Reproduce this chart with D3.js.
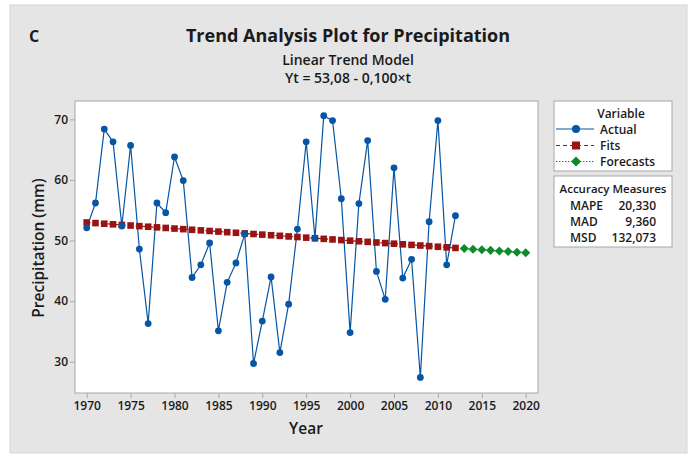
<!DOCTYPE html>
<html>
<head>
<meta charset="utf-8">
<script src="https://cdn.jsdelivr.net/npm/d3@7"></script>
<style>
  body { margin: 0; background: #fff; }
  svg { display: block; font-family: "Open Sans", "Noto Sans", sans-serif; }
</style>
</head>
<body>
<script>
// Observed precipitation (mm), 1970-2012
const years = d3.range(1970, 2013);
const actual = [
  52.1, 56.2, 68.4, 66.3, 52.4, 65.7, 48.6, 36.3, 56.2, 54.6,
  63.8, 59.9, 43.9, 46.0, 49.6, 35.1, 43.1, 46.3, 51.1, 29.7,
  36.7, 44.0, 31.5, 39.5, 51.9, 66.3, 50.4, 70.6, 69.8, 56.9,
  34.8, 56.1, 66.5, 44.9, 40.3, 62.0, 43.8, 46.9, 27.4, 53.1,
  69.8, 46.0, 54.1
];
// Fitted trend values, 1970-2012
const fits = [
  52.98, 52.88, 52.78, 52.68, 52.58, 52.48, 52.38, 52.28, 52.18, 52.08,
  51.98, 51.88, 51.78, 51.68, 51.58, 51.48, 51.38, 51.28, 51.18, 51.08,
  50.98, 50.88, 50.78, 50.68, 50.58, 50.48, 50.38, 50.28, 50.18, 50.08,
  49.98, 49.88, 49.78, 49.68, 49.58, 49.48, 49.38, 49.28, 49.18, 49.08,
  48.98, 48.88, 48.78
];
// Forecasts, 2013-2020
const forecastYears = d3.range(2013, 2021);
const forecasts = [48.68, 48.58, 48.48, 48.38, 48.28, 48.18, 48.08, 47.98];

const xTicks = [1970, 1975, 1980, 1985, 1990, 1995, 2000, 2005, 2010, 2015, 2020];
const yTicks = [30, 40, 50, 60, 70];

const accLabels = ["MAPE", "MAD", "MSD"];
const accValues = ["20,330", "9,360", "132,073"];

const W = 689, H = 454;
const plot = { left: 75, right: 538, top: 101, bottom: 393 };

const colActual = "#0755a5";
const colFits = "#9a1313";
const colFc = "#0e8a2a";

const svg = d3.select("body").append("svg")
  .attr("width", W)
  .attr("height", H);

// grey panel
svg.append("rect")
  .attr("x", 10).attr("y", 5)
  .attr("width", 677).attr("height", 448)
  .attr("fill", "#e5e5e5")
  .attr("stroke", "#d6d6d6");

// plot area
svg.append("rect")
  .attr("x", plot.left).attr("y", plot.top)
  .attr("width", plot.right - plot.left)
  .attr("height", plot.bottom - plot.top)
  .attr("fill", "#fff")
  .attr("stroke", "#a8a8a8");

const x = d3.scaleLinear()
  .domain([1970, 2020])
  .range([86.7, 525.7]);

const y = d3.scaleLinear()
  .domain([30, 70])
  .range([361.7, 119.4]);

// axes
const xAxis = svg.append("g")
  .attr("transform", `translate(0, ${plot.bottom})`)
  .call(d3.axisBottom(x).tickValues(xTicks).tickFormat(d3.format("d")).tickSize(5).tickSizeOuter(0));
const yAxis = svg.append("g")
  .attr("transform", `translate(${plot.left}, 0)`)
  .call(d3.axisLeft(y).tickValues(yTicks).tickSize(5).tickSizeOuter(0));

[xAxis, yAxis].forEach(g => {
  g.select(".domain").remove();
  g.selectAll(".tick line").attr("stroke", "#a8a8a8");
  g.selectAll(".tick text")
    .attr("fill", "#1a1a1a")
    .style("font-size", "12px")
    .style("font-weight", "600")
    .style("font-family", "Open Sans, sans-serif");
});
xAxis.selectAll(".tick text").attr("dy", "0.71em").attr("y", 8);
yAxis.selectAll(".tick text").attr("x", -7);

// axis titles
svg.append("text")
  .attr("x", 306).attr("y", 434)
  .attr("text-anchor", "middle")
  .style("font-size", "15.5px").style("font-weight", "600")
  .attr("fill", "#1a1a1a")
  .text("Year");

svg.append("text")
  .attr("transform", `translate(44, 248) rotate(-90)`)
  .attr("text-anchor", "middle")
  .style("font-size", "15.5px").style("font-weight", "600")
  .attr("fill", "#1a1a1a")
  .text("Precipitation (mm)");

// titles
svg.append("text")
  .attr("x", 29).attr("y", 42)
  .style("font-size", "16px").style("font-weight", "700")
  .attr("fill", "#1a1a1a")
  .text("C");

svg.append("text")
  .attr("x", 348).attr("y", 42)
  .attr("text-anchor", "middle")
  .style("font-size", "18px").style("font-weight", "700")
  .attr("fill", "#1a1a1a")
  .text("Trend Analysis Plot for Precipitation");

svg.append("text")
  .attr("x", 348).attr("y", 65)
  .attr("text-anchor", "middle")
  .style("font-size", "14px").style("font-weight", "600")
  .attr("fill", "#1a1a1a")
  .text("Linear Trend Model");

svg.append("text")
  .attr("x", 348).attr("y", 83)
  .attr("text-anchor", "middle")
  .style("font-size", "14px").style("font-weight", "600")
  .attr("fill", "#1a1a1a")
  .text("Yt = 53,08 - 0,100×t");

// series
const actualData = years.map((yr, i) => ({ yr, v: actual[i] }));
const fitData = years.map((yr, i) => ({ yr, v: fits[i] }));
const fcData = forecastYears.map((yr, i) => ({ yr, v: forecasts[i] }));

const line = d3.line().x(d => x(d.yr)).y(d => y(d.v));

svg.append("path")
  .datum(fitData)
  .attr("d", line)
  .attr("fill", "none")
  .attr("stroke", colFits)
  .attr("stroke-width", 1.2)
  .attr("stroke-dasharray", "4,3");

svg.append("path")
  .datum(fcData)
  .attr("d", line)
  .attr("fill", "none")
  .attr("stroke", colFc)
  .attr("stroke-width", 1.2)
  .attr("stroke-dasharray", "1.5,1.5");

svg.append("path")
  .datum(actualData)
  .attr("d", line)
  .attr("fill", "none")
  .attr("stroke", colActual)
  .attr("stroke-width", 1.2);

svg.selectAll("rect.fit")
  .data(fitData)
  .enter().append("rect")
  .attr("class", "fit")
  .attr("x", d => x(d.yr) - 3.3)
  .attr("y", d => y(d.v) - 3.3)
  .attr("width", 6.6).attr("height", 6.6)
  .attr("fill", colFits);

const diamond = d3.symbol().type(d3.symbolDiamond2).size(52);
svg.selectAll("path.fc")
  .data(fcData)
  .enter().append("path")
  .attr("class", "fc")
  .attr("transform", d => `translate(${x(d.yr)}, ${y(d.v)})`)
  .attr("d", diamond)
  .attr("fill", colFc);

svg.selectAll("circle.act")
  .data(actualData)
  .enter().append("circle")
  .attr("class", "act")
  .attr("cx", d => x(d.yr))
  .attr("cy", d => y(d.v))
  .attr("r", 3.4)
  .attr("fill", colActual);

// legend: Variable
const lg = svg.append("g");
lg.append("rect")
  .attr("x", 554).attr("y", 101)
  .attr("width", 118).attr("height", 70)
  .attr("fill", "#fff").attr("stroke", "#a8a8a8");
lg.append("text")
  .attr("x", 621).attr("y", 118)
  .attr("text-anchor", "middle")
  .style("font-size", "12px").style("font-weight", "600")
  .attr("fill", "#1a1a1a")
  .text("Variable");

const legendRows = [
  { name: "Actual", color: colActual, dash: null, mark: "circle", cy: 129 },
  { name: "Fits", color: colFits, dash: "4,3", mark: "square", cy: 145.5 },
  { name: "Forecasts", color: colFc, dash: "1.5,1.5", mark: "diamond", cy: 161.5 }
];
legendRows.forEach(r => {
  lg.append("line")
    .attr("x1", 556).attr("x2", 594)
    .attr("y1", r.cy).attr("y2", r.cy)
    .attr("stroke", r.color).attr("stroke-width", 1.2)
    .attr("stroke-dasharray", r.dash);
  if (r.mark === "circle") {
    lg.append("circle").attr("cx", 576).attr("cy", r.cy).attr("r", 4).attr("fill", r.color);
  } else if (r.mark === "square") {
    lg.append("rect").attr("x", 572).attr("y", r.cy - 4).attr("width", 8).attr("height", 8).attr("fill", r.color);
  } else {
    lg.append("path").attr("transform", `translate(576, ${r.cy})`)
      .attr("d", d3.symbol().type(d3.symbolDiamond2).size(64)).attr("fill", r.color);
  }
  lg.append("text")
    .attr("x", 600).attr("y", r.cy + 4.5)
    .style("font-size", "12px").style("font-weight", "600")
    .attr("fill", "#1a1a1a")
    .text(r.name);
});

// legend: Accuracy measures
const acc = svg.append("g");
acc.append("rect")
  .attr("x", 554).attr("y", 176)
  .attr("width", 118).attr("height", 71)
  .attr("fill", "#fff").attr("stroke", "#a8a8a8");
acc.append("text")
  .attr("x", 613).attr("y", 193)
  .attr("text-anchor", "middle")
  .style("font-size", "11.5px").style("font-weight", "600")
  .attr("fill", "#1a1a1a")
  .text("Accuracy Measures");
accLabels.forEach((lab, i) => {
  const by = 210 + i * 16;
  acc.append("text")
    .attr("x", 570).attr("y", by)
    .style("font-size", "12px").style("font-weight", "600")
    .attr("fill", "#1a1a1a")
    .text(lab);
  acc.append("text")
    .attr("x", 656).attr("y", by)
    .attr("text-anchor", "end")
    .style("font-size", "12px").style("font-weight", "600")
    .attr("fill", "#1a1a1a")
    .text(accValues[i]);
});
</script>
</body>
</html>
